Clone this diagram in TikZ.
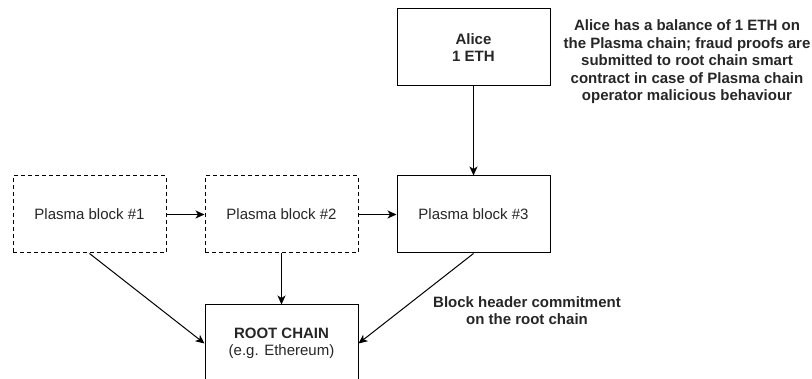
\documentclass[tikz,border=0pt]{standalone}
\usepackage{fontspec}
\setmainfont{Liberation Sans}
\usetikzlibrary{arrows.meta, positioning}
\newcommand{\diagfont}{\fontsize{15}{17.5}\selectfont}
\tikzset{
         mybox/.style={draw, minimum height=77pt, minimum width=153pt, inner sep=0pt, align=center},
         mydash/.style={mybox, dash pattern=on 4pt off 3pt},
         mynote/.style={draw=none, align=center, font=\diagfont\bfseries}
      }

\begin{document}
\begin{tikzpicture}[x=1pt, y=-1pt, line width=1pt,
                 font=\diagfont, text=black!85]
                  \tikzstyle{line} = [draw, -{Stealth[length=9pt, width=8pt, inset=2.5pt]}]
                     \useasboundingbox (0,0) rectangle (812,379);
                     \node[mydash] (block1) at (89.5,214.5) {Plasma block \#1};
                     \node[mydash, right=38pt of block1] (block2) {Plasma block \#2};
                     \node[mybox, right=38pt of block2] (block3) {Plasma block \#3};
                     \node[mybox, above=89pt of block3] (alice) {\textbf{Alice}\\\textbf{1 ETH}};
                     \node[mybox, below=51pt of block2] (root) {\textbf{ROOT CHAIN}\\(e.g. Ethereum)};
                     \node[mynote] (fraud) at (687,62) {Alice has a balance of 1 ETH on\\the Plasma chain; fraud proofs are\\submitted to root chain smart\\contract in case of Plasma chain\\operator malicious behaviour};
                     \node[mynote] (commit) at (527,310.5) {Block header commitment\\on the root chain};
                     \path [line] (alice.south) -- (block3.north);
                     \path [line] (block1.east) -- (block2.west);
                     \path [line] (block2.east) -- (block3.west);
                     \path [line] (block1.south) -- (root.west);
                     \path [line] (block2.south) -- (root.north);
                     \path [line] (block3.south) -- (root.east);
               \end{tikzpicture}
\end{document}
